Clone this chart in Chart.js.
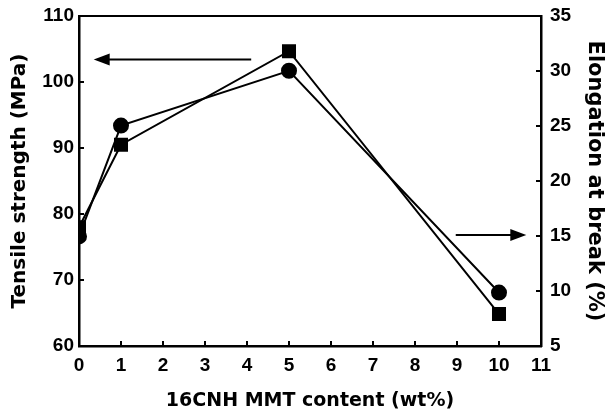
<!DOCTYPE html>
<html>
<head>
<meta charset="utf-8">
<script src="https://cdn.jsdelivr.net/npm/chart.js@4.4.0/dist/chart.umd.min.js"></script>
<style>
  html, body { margin: 0; padding: 0; background: #fff; }
  #wrap { width: 609px; height: 420px; }
</style>
</head>
<body>
<div id="wrap"><canvas id="c" width="609" height="420"></canvas></div>
<script>
// values
const mmtContent = [0, 1, 5, 10];
const tensileStrength = [76.6, 93.4, 101.7, 68.1];   // MPa, circles, left axis
const elongationAtBreak = [15.8, 23.3, 31.8, 7.9];   // %, squares, right axis
const xTickValues = [0, 1, 2, 3, 4, 5, 6, 7, 8, 9, 10, 11];
const leftTickValues = [60, 70, 80, 90, 100, 110];
const rightTickValues = [5, 10, 15, 20, 25, 30, 35];
// arrows, in data units: [x, y] start -> end
const arrowToLeft = { axis: "yL", from: [4.1, 103.4], to: [0.35, 103.4] };
const arrowToRight = { axis: "yR", from: [8.97, 15.1], to: [10.65, 15.1] };

const TICK_FAMILY = "'Liberation Sans', Arial, sans-serif";
const TITLE_FAMILY = "'DejaVu Sans', 'Liberation Sans', sans-serif";
const tickFont = { family: TICK_FAMILY, size: 19, weight: "bold" };

const W = 609;
const chartLeft = 79, chartRight = 541, chartTop = 16, chartBottom = 346;
const padLeft = 8, padRight = 2, padBottom = 8;

// inward ticks, top frame line and the two arrows
const decorations = {
  id: "decorations",
  afterDatasetsDraw(chart) {
    const { ctx, chartArea: a, scales } = chart;
    ctx.save();
    ctx.strokeStyle = "#000";
    ctx.lineWidth = 2;
    ctx.beginPath();
    ctx.moveTo(a.left - 1, a.top);
    ctx.lineTo(a.right + 1, a.top);
    ctx.stroke();

    xTickValues.forEach(v => {
      const px = scales.x.getPixelForValue(v);
      ctx.beginPath(); ctx.moveTo(px, a.bottom); ctx.lineTo(px, a.bottom - 5); ctx.stroke();
    });
    leftTickValues.forEach(v => {
      const py = scales.yL.getPixelForValue(v);
      ctx.beginPath(); ctx.moveTo(a.left, py); ctx.lineTo(a.left + 5, py); ctx.stroke();
    });
    rightTickValues.forEach(v => {
      const py = scales.yR.getPixelForValue(v);
      ctx.beginPath(); ctx.moveTo(a.right, py); ctx.lineTo(a.right - 5, py); ctx.stroke();
    });

    [arrowToLeft, arrowToRight].forEach(ar => {
      const x1 = scales.x.getPixelForValue(ar.from[0]);
      const y1 = scales[ar.axis].getPixelForValue(ar.from[1]);
      const x2 = scales.x.getPixelForValue(ar.to[0]);
      const y2 = scales[ar.axis].getPixelForValue(ar.to[1]);
      const dir = Math.sign(x2 - x1);
      ctx.lineWidth = 2;
      ctx.beginPath(); ctx.moveTo(x1, y1); ctx.lineTo(x2 - dir * 12, y2); ctx.stroke();
      ctx.fillStyle = "#000";
      ctx.beginPath();
      ctx.moveTo(x2, y2);
      ctx.lineTo(x2 - dir * 16, y2 - 6);
      ctx.lineTo(x2 - dir * 16, y2 + 6);
      ctx.closePath();
      ctx.fill();
    });
    ctx.restore();
  }
};

// keep the plot box where the figure has it
function fitY(width) {
  return s => { s.width = width; s.paddingTop = 0; s.paddingBottom = 0; };
}

new Chart(document.getElementById("c"), {
  type: "line",
  data: {
    datasets: [
      {
        label: "Tensile strength",
        data: mmtContent.map((x, i) => ({ x, y: tensileStrength[i] })),
        yAxisID: "yL",
        borderColor: "#000",
        backgroundColor: "#000",
        borderWidth: 2,
        pointStyle: "circle",
        pointRadius: 7,
        tension: 0
      },
      {
        label: "Elongation at break",
        data: mmtContent.map((x, i) => ({ x, y: elongationAtBreak[i] })),
        yAxisID: "yR",
        borderColor: "#000",
        backgroundColor: "#000",
        borderWidth: 2,
        pointStyle: "rect",
        pointRadius: 8.5,
        tension: 0
      }
    ]
  },
  options: {
    responsive: false,
    animation: false,
    layout: { padding: { left: padLeft, right: padRight, top: chartTop, bottom: padBottom } },
    plugins: { legend: { display: false }, tooltip: { enabled: false } },
    scales: {
      x: {
        type: "linear",
        min: 0, max: 11,
        afterBuildTicks: s => { s.ticks = xTickValues.map(v => ({ value: v })); },
        afterFit: s => { s.height = 420 - chartBottom - padBottom; s.paddingLeft = 0; s.paddingRight = 0; },
        grid: { drawOnChartArea: false, drawTicks: false },
        border: { color: "#000", width: 2.5 },
        ticks: { color: "#000", font: tickFont, padding: 8, maxRotation: 0 },
        title: { display: true, text: "16CNH MMT content (wt%)", color: "#000",
                 font: { family: TITLE_FAMILY, size: 19, weight: "bold" }, padding: { top: 10, bottom: 0 } }
      },
      yL: {
        position: "left",
        min: 60, max: 110,
        afterBuildTicks: s => { s.ticks = leftTickValues.map(v => ({ value: v })); },
        afterFit: fitY(chartLeft - padLeft),
        grid: { drawOnChartArea: false, drawTicks: false },
        border: { color: "#000", width: 2.5 },
        ticks: { color: "#000", font: tickFont, padding: 5 },
        title: { display: true, text: "Tensile strength (MPa)", color: "#000",
                 font: { family: TITLE_FAMILY, size: 20, weight: "bold" }, padding: { top: 0, bottom: 3 } }
      },
      yR: {
        position: "right",
        min: 5, max: 35,
        afterBuildTicks: s => { s.ticks = rightTickValues.map(v => ({ value: v })); },
        afterFit: fitY(W - chartRight - padRight),
        grid: { drawOnChartArea: false, drawTicks: false },
        border: { color: "#000", width: 2.5 },
        ticks: { color: "#000", font: tickFont, padding: 9 },
        title: { display: true, text: "Elongation at break (%)", color: "#000",
                 font: { family: TITLE_FAMILY, size: 21, weight: "bold" }, padding: { top: 0, bottom: 2 } }
      }
    }
  },
  plugins: [decorations]
});
</script>
</body>
</html>
